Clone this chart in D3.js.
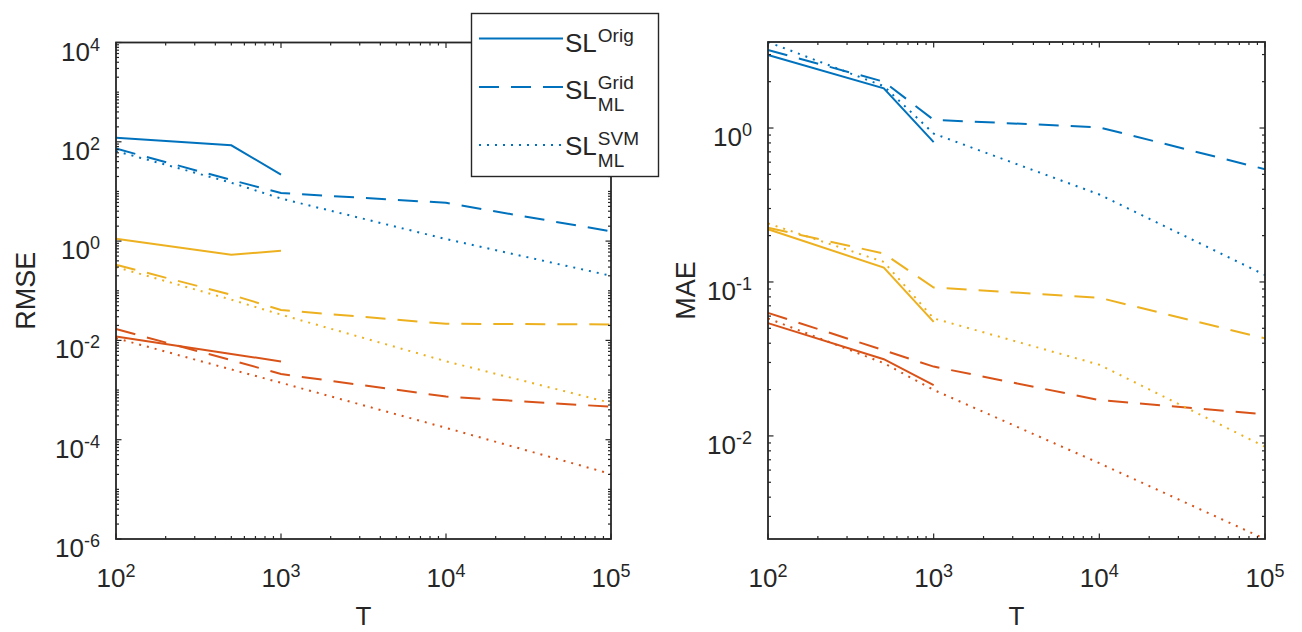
<!DOCTYPE html>
<html>
<head>
<meta charset="utf-8">
<script src="https://cdn.jsdelivr.net/npm/d3@7"></script>
<style>
  body { margin: 0; background: #fff; }
  text { font-family: "Liberation Sans", Arial, Helvetica, sans-serif; fill: #262626; }
</style>
</head>
<body>
<svg id="chart" width="1302" height="632"></svg>
<script>
// Sample sizes
const T = [100, 500, 1000, 10000, 100000];
const T_orig = [100, 500, 1000];

// RMSE per method (blue / orange-red / yellow problem instances)
const rmseBlueOrig   = [120, 85, 21.8];
const rmseBlueGrid   = [73, 17, 9.3, 5.9, 1.57];
const rmseBlueSVM    = [65, 15, 7.2, 1.1, 0.2];
const rmseYellowOrig = [1.12, 0.53, 0.64];
const rmseYellowGrid = [0.334, 0.083, 0.041, 0.0216, 0.021];
const rmseYellowSVM  = [0.30, 0.066, 0.033, 0.0038, 0.00055];
const rmseRedOrig    = [0.012, 0.00535, 0.00376];
const rmseRedGrid    = [0.0169, 0.004, 0.0021, 0.00074, 0.00046];
const rmseRedSVM     = [0.0111, 0.0026, 0.0014, 0.000173, 0.0000204];

// MAE per method
const maeBlueOrig   = [2.98, 1.81, 0.81];
const maeBlueGrid   = [3.21, 2.0, 1.13, 1.01, 0.54];
const maeBlueSVM    = [3.62, 1.87, 0.92, 0.37, 0.111];
const maeYellowOrig = [0.22, 0.124, 0.055];
const maeYellowGrid = [0.225, 0.153, 0.092, 0.079, 0.043];
const maeYellowSVM  = [0.24, 0.135, 0.058, 0.029, 0.0085];
const maeRedOrig    = [0.054, 0.0315, 0.0214];
const maeRedGrid    = [0.063, 0.036, 0.0282, 0.0171, 0.0138];
const maeRedSVM     = [0.058, 0.0297, 0.0199, 0.00665, 0.00214];

// Tick labels (exponents of 10)
const xTickExps = [2, 3, 4, 5];
const rmseTickExps = [4, 2, 0, -2, -4, -6];
const maeTickExps = [0, -1, -2];

const methods = ["Orig", "Grid", "SVM"];
const legendSup = ["Orig", "Grid", "SVM"];
const legendSub = [null, "ML", "ML"];

const BLUE = "#0072BD", RED = "#D95319", YELLOW = "#EDB120";
const DASH = { Orig: null, Grid: "20,12", SVM: "2,6" };
const AX = "#262626";

const svg = d3.select("#chart");

function seriesList(b, y, r) {
  return [
    { t: T_orig, v: b[0], color: BLUE, m: "Orig" },
    { t: T,      v: b[1], color: BLUE, m: "Grid" },
    { t: T,      v: b[2], color: BLUE, m: "SVM" },
    { t: T_orig, v: r[0], color: RED, m: "Orig" },
    { t: T,      v: r[1], color: RED, m: "Grid" },
    { t: T,      v: r[2], color: RED, m: "SVM" },
    { t: T_orig, v: y[0], color: YELLOW, m: "Orig" },
    { t: T,      v: y[1], color: YELLOW, m: "Grid" },
    { t: T,      v: y[2], color: YELLOW, m: "SVM" }
  ];
}

function pow10Label(g, x, y, exp, anchor) {
  const t = g.append("text").attr("x", x).attr("y", y)
    .attr("text-anchor", anchor).style("font-size", "26px");
  t.append("tspan").text("10");
  t.append("tspan").attr("dy", -10).style("font-size", "18px").text(String(exp));
}

function panel(opts) {
  const { left, right, top, bottom, yDomain, series, yTickExps, yLabel, yLabelX } = opts;
  const g = svg.append("g");
  const x = d3.scaleLog().domain([100, 100000]).range([left, right]);
  const y = d3.scaleLog().domain(yDomain).range([bottom, top]);

  // data lines
  const line = d3.line().x(d => x(d[0])).y(d => y(d[1]));
  g.append("g").selectAll("path").data(series).join("path")
    .attr("d", s => line(s.t.map((t, i) => [t, s.v[i]])))
    .attr("fill", "none")
    .attr("stroke", s => s.color)
    .attr("stroke-width", 2)
    .attr("stroke-dasharray", s => DASH[s.m]);

  // ticks
  const lo = Math.floor(Math.log10(yDomain[0])), hi = Math.ceil(Math.log10(yDomain[1]));
  const majorY = yTickExps.map(e => Math.pow(10, e));
  const minorY = [];
  for (let e = lo; e <= hi; e++) for (let k = 1; k <= 9; k++) {
    const v = k * Math.pow(10, e);
    if (v >= yDomain[0] * 0.9999 && v <= yDomain[1] * 1.0001 && !majorY.some(m => Math.abs(m - v) / v < 1e-6)) minorY.push(v);
  }
  const majorX = xTickExps.map(e => Math.pow(10, e));
  const minorX = [];
  for (let e = 2; e < 5; e++) for (let k = 2; k <= 9; k++) minorX.push(k * Math.pow(10, e));

  const tk = g.append("g").attr("stroke", AX).attr("stroke-width", 1.2);
  const yt = (vals, len) => {
    tk.selectAll(null).data(vals).join("line")
      .attr("x1", left).attr("x2", left + len).attr("y1", d => y(d)).attr("y2", d => y(d));
    tk.selectAll(null).data(vals).join("line")
      .attr("x1", right).attr("x2", right - len).attr("y1", d => y(d)).attr("y2", d => y(d));
  };
  const xt = (vals, len) => {
    tk.selectAll(null).data(vals).join("line")
      .attr("y1", bottom).attr("y2", bottom - len).attr("x1", d => x(d)).attr("x2", d => x(d));
    tk.selectAll(null).data(vals).join("line")
      .attr("y1", top).attr("y2", top + len).attr("x1", d => x(d)).attr("x2", d => x(d));
  };
  yt(majorY.filter(v => v >= yDomain[0] && v <= yDomain[1]), 5.5);
  yt(minorY, 3);
  xt(majorX, 5.5);
  xt(minorX, 3);

  // box
  g.append("rect").attr("x", left).attr("y", top)
    .attr("width", right - left).attr("height", bottom - top)
    .attr("fill", "none").attr("stroke", AX).attr("stroke-width", 1.8);

  // tick labels
  xTickExps.forEach(e => pow10Label(g, x(Math.pow(10, e)), bottom + 48, e, "middle"));
  yTickExps.forEach(e => pow10Label(g, left - 16, y(Math.pow(10, e)) + 18, e, "end"));

  // axis titles
  g.append("text").attr("x", (left + right) / 2).attr("y", 625)
    .attr("text-anchor", "middle").style("font-size", "26px").text("T");
  g.append("text")
    .attr("transform", `translate(${yLabelX},${(top + bottom) / 2}) rotate(-90)`)
    .attr("text-anchor", "middle").style("font-size", "27px").text(yLabel);
  return g;
}

panel({
  left: 116, right: 611, top: 42.5, bottom: 539,
  yDomain: [1e-6, 1e4],
  series: seriesList(
    [rmseBlueOrig, rmseBlueGrid, rmseBlueSVM],
    [rmseYellowOrig, rmseYellowGrid, rmseYellowSVM],
    [rmseRedOrig, rmseRedGrid, rmseRedSVM]),
  yTickExps: rmseTickExps, yLabel: "RMSE", yLabelX: 35
});

const maeAll = [maeBlueOrig, maeBlueGrid, maeBlueSVM, maeYellowOrig, maeYellowGrid,
  maeYellowSVM, maeRedOrig, maeRedGrid, maeRedSVM].flat();
panel({
  left: 768, right: 1265, top: 42, bottom: 539,
  yDomain: d3.extent(maeAll),
  series: seriesList(
    [maeBlueOrig, maeBlueGrid, maeBlueSVM],
    [maeYellowOrig, maeYellowGrid, maeYellowSVM],
    [maeRedOrig, maeRedGrid, maeRedSVM]),
  yTickExps: maeTickExps, yLabel: "MAE", yLabelX: 695
});

// legend
const lg = svg.append("g");
lg.append("rect").attr("x", 471.5).attr("y", 13.5).attr("width", 187).attr("height", 163)
  .attr("fill", "#fff").attr("stroke", AX).attr("stroke-width", 1.4);
const rows = [
  { lineY: 38.5, base: 51.5 },
  { lineY: 87, base: 98.5 },
  { lineY: 145, base: 155 }
];
methods.forEach((m, i) => {
  const r = rows[i];
  lg.append("line").attr("x1", 479).attr("x2", 563).attr("y1", r.lineY).attr("y2", r.lineY)
    .attr("stroke", BLUE).attr("stroke-width", 2).attr("stroke-dasharray", DASH[m]);
  const sl = lg.append("text").attr("x", 565).attr("y", r.base).style("font-size", "26px").text("SL");
  const sx = 565 + sl.node().getComputedTextLength() + 1;
  lg.append("text").attr("x", sx).attr("y", r.base - 10).style("font-size", "19px").text(legendSup[i]);
  if (legendSub[i]) lg.append("text").attr("x", sx).attr("y", r.base + 12).style("font-size", "19px").text(legendSub[i]);
});
</script>
</body>
</html>
